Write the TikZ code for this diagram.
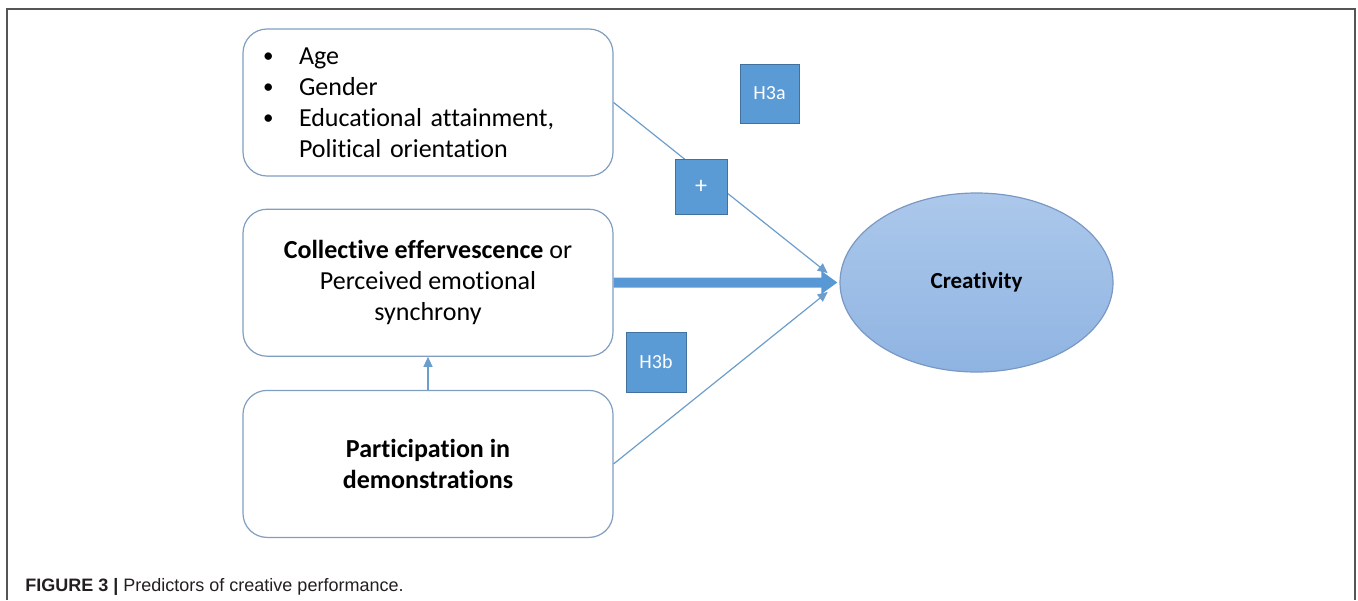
\documentclass[tikz,border=0pt]{standalone}
\usepackage{fontspec}
\setmainfont{Carlito}[Ligatures={NoCommon}]
\newfontfamily\capfont{Liberation Sans}
\usetikzlibrary{positioning,shapes.geometric,arrows.meta}
\definecolor{boxline}{RGB}{128,158,192}
\definecolor{tagfill}{RGB}{91,155,213}
\definecolor{tagline}{RGB}{65,113,156}
\definecolor{ovaltop}{RGB}{172,200,235}
\definecolor{ovalbottom}{RGB}{143,180,226}
\definecolor{ovalline}{RGB}{122,152,196}
\definecolor{linkblue}{RGB}{108,158,205}
\definecolor{mainblue}{RGB}{88,152,212}
\definecolor{framegray}{RGB}{85,85,85}
\definecolor{captext}{RGB}{35,31,32}
\newcommand{\listdot}{\makebox[18pt][l]{\raisebox{0.8pt}{\fontsize{10.5}{10}\selectfont\textbullet}}}
\tikzset{
	block/.style     = {draw=boxline, line width=0.6pt, fill=white, rectangle, rounded corners=12pt, minimum width=185pt, minimum height=73.5pt, align=center, font=\fontsize{13}{15.5}\selectfont},
	listblock/.style = {block, align=left, text width=165pt, inner xsep=10pt},
	hyptag/.style    = {draw=tagline, fill=tagfill, text=white, rectangle, inner sep=0pt, font=\fontsize{10}{12}\selectfont},
	outcome/.style   = {draw=ovalline, line width=0.6pt, ellipse, top color=ovaltop, bottom color=ovalbottom, minimum width=136.5pt, minimum height=89.5pt, font=\bfseries\fontsize{11.5}{14}\selectfont},
	link/.style      = {draw=linkblue, line width=0.6pt, -{Triangle[length=5pt,width=4.5pt]}},
	mainlink/.style  = {draw=mainblue, line width=5pt, -{Triangle[length=8pt,width=11pt]}},
	plotframe/.style = {draw=framegray, line width=0.75pt},
	caption/.style   = {anchor=base west, inner sep=0pt, text=captext, font=\capfont\fontsize{9}{11}\selectfont},
}

\begin{document}
\begin{tikzpicture}[x=0.5pt, y=-0.5pt]
		% Fix the page and draw the frame
		\useasboundingbox (0,0) rectangle (1358,600);
		\draw[plotframe] (7,600) -- (7,9) -- (1355,9) -- (1355,600);
		
		% Draw the predictor blocks
		\draw
		node[listblock] (demo) at (428,102.5) {\listdot Age\\\listdot Gender\\\listdot Educational attainment,\\\hspace*{18pt}Political orientation}
		node[block, below = 16pt of demo] (effer) {\textbf{Collective effervescence} or\\Perceived emotional\\synchrony}
		node[block, below = 16.5pt of effer] (part) {\textbf{Participation in}\\\textbf{demonstrations}};
		
		% Draw the outcome node
		\draw node[outcome] (creativity) at (976.5,282.5) {Creativity};
		
		% Connect everything together
		\draw[link, shorten >=7.5pt] (demo.east) -- (creativity.west);
		\draw[mainlink, shorten >=1pt] (effer.east) -- (creativity.west);
		\draw[link, shorten >=7.5pt] (part.east) -- (creativity.west);
		\draw[link] (part.north) -- (effer.south);
		
		% Draw the hypothesis tags on top
		\draw
		node[hyptag, minimum width=29.5pt, minimum height=29.5pt] (hthreea) at (769.5,93.5) {H3a}
		node[hyptag, minimum width=26pt, minimum height=27.5pt, font=\fontsize{12}{12}\selectfont] (plus) at (701,186.5) {+}
		node[hyptag, minimum width=30pt, minimum height=30pt] (hthreeb) at (656,362) {H3b};
		
		% Caption
		\node[caption] (cap) at (25,591) {\textbf{FIGURE 3 |} Predictors of creative performance.};
	\end{tikzpicture}
\end{document}
